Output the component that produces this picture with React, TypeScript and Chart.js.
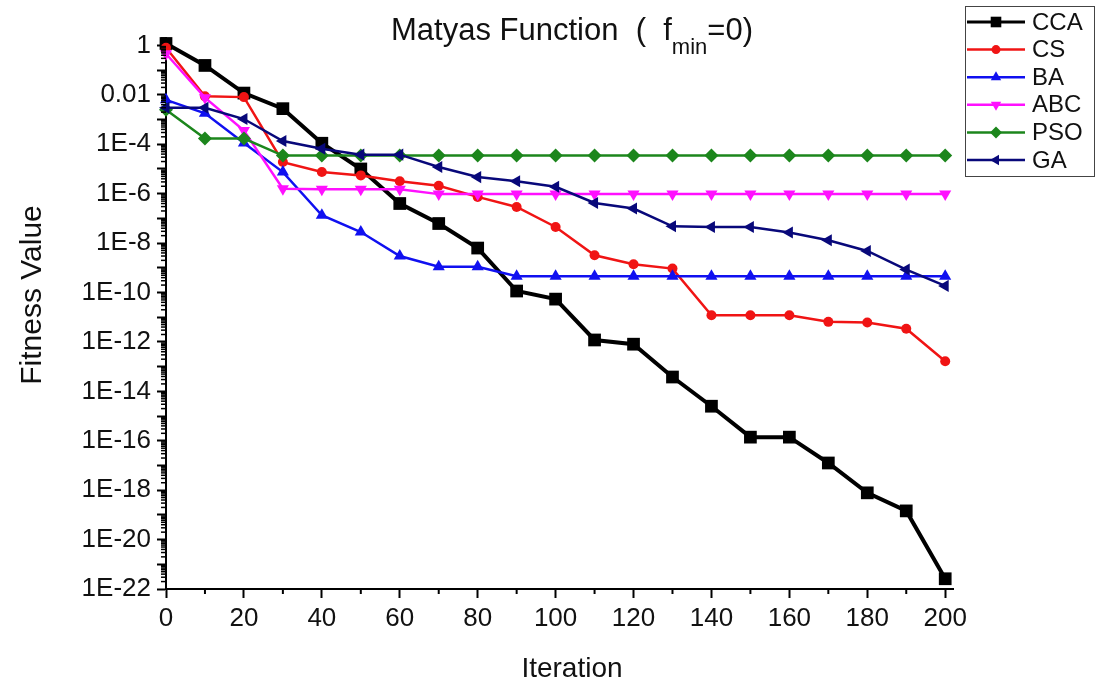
import React, { useEffect, useRef } from 'react';
import { Chart, registerables } from 'chart.js';

Chart.register(...registerables);

const iterations = [0, 10, 20, 30, 40, 50, 60, 70, 80, 90, 100, 110, 120, 130, 140, 150, 160, 170, 180, 190, 200];

const ccaValues = [1.2, 0.155, 0.0118, 0.00276, 1.1e-4, 1.0e-5, 4e-7, 6.2e-8, 6.3e-9, 1.15e-10, 5.4e-11, 1.2e-12, 8.1e-13, 3.8e-14, 2.5e-15, 1.4e-16, 1.4e-16, 1.26e-17, 7.8e-19, 1.45e-19, 2.6e-22];
const csValues = [0.8, 0.0087, 0.0081, 1.9e-5, 7.5e-6, 5.5e-6, 3.2e-6, 2.1e-6, 7.4e-7, 2.9e-7, 4.5e-8, 3.2e-9, 1.4e-9, 9.3e-10, 1.2e-11, 1.2e-11, 1.2e-11, 6.5e-12, 6.1e-12, 3.4e-12, 1.65e-13];
const baValues = [0.0063, 0.0018, 1.12e-4, 7.5e-6, 1.34e-7, 2.8e-8, 3.0e-9, 1.1e-9, 1.1e-9, 4.6e-10, 4.6e-10, 4.6e-10, 4.6e-10, 4.6e-10, 4.6e-10, 4.6e-10, 4.6e-10, 4.6e-10, 4.6e-10, 4.6e-10, 4.6e-10];
const abcValues = [0.46, 0.0077, 3.6e-4, 1.6e-6, 1.5e-6, 1.5e-6, 1.5e-6, 9.6e-7, 9.6e-7, 9.6e-7, 9.6e-7, 9.6e-7, 9.6e-7, 9.6e-7, 9.6e-7, 9.6e-7, 9.6e-7, 9.6e-7, 9.6e-7, 9.6e-7, 9.6e-7];
const psoValues = [0.0025, 1.7e-4, 1.7e-4, 3.5e-5, 3.5e-5, 3.5e-5, 3.5e-5, 3.5e-5, 3.5e-5, 3.5e-5, 3.5e-5, 3.5e-5, 3.5e-5, 3.5e-5, 3.5e-5, 3.5e-5, 3.5e-5, 3.5e-5, 3.5e-5, 3.5e-5, 3.5e-5];
const gaValues = [0.003, 0.003, 1.05e-3, 1.35e-4, 6.6e-5, 3.8e-5, 3.8e-5, 1.2e-5, 4.7e-6, 3.2e-6, 1.9e-6, 4.2e-7, 2.5e-7, 4.8e-8, 4.5e-8, 4.5e-8, 2.7e-8, 1.3e-8, 4.8e-9, 8.5e-10, 1.85e-10];

const seriesNames = ['CCA', 'CS', 'BA', 'ABC', 'PSO', 'GA'];
const xTickValues = [0, 20, 40, 60, 80, 100, 120, 140, 160, 180, 200];
const xMinorTickValues = [10, 30, 50, 70, 90, 110, 130, 150, 170, 190];
const yTickExponents = [0, -1, -2, -3, -4, -5, -6, -7, -8, -9, -10, -11, -12, -13, -14, -15, -16, -17, -18, -19, -20, -21, -22];

const FONT = "'Liberation Sans', Arial, Helvetica, sans-serif";

type Style = { color: string; pointStyle: string; rotation: number; radius: number; lineWidth: number; legendRadius: number };
const styles: Style[] = [
  { color: '#000000', pointStyle: 'rect', rotation: 0, radius: 9, lineWidth: 4, legendRadius: 7.5 },
  { color: '#f01414', pointStyle: 'circle', rotation: 0, radius: 5, lineWidth: 2.5, legendRadius: 4.5 },
  { color: '#1010f0', pointStyle: 'triangle', rotation: 0, radius: 7, lineWidth: 2.5, legendRadius: 6 },
  { color: '#ff10ff', pointStyle: 'triangle', rotation: 180, radius: 7, lineWidth: 2.5, legendRadius: 6 },
  { color: '#1c861c', pointStyle: 'rectRot', rotation: 0, radius: 7, lineWidth: 2.5, legendRadius: 6 },
  { color: '#08087a', pointStyle: 'triangle', rotation: 270, radius: 7, lineWidth: 2.5, legendRadius: 6 },
];

function drawMarker(ctx: CanvasRenderingContext2D, s: Style, x: number, y: number, r: number) {
  ctx.beginPath();
  if (s.pointStyle === 'rect') {
    const h = r * Math.SQRT1_2;
    ctx.rect(x - h, y - h, 2 * h, 2 * h);
  } else if (s.pointStyle === 'circle') {
    ctx.arc(x, y, r, 0, Math.PI * 2);
  } else if (s.pointStyle === 'rectRot') {
    ctx.moveTo(x, y - r);
    ctx.lineTo(x + r, y);
    ctx.lineTo(x, y + r);
    ctx.lineTo(x - r, y);
    ctx.closePath();
  } else {
    let rad = (s.rotation * Math.PI) / 180;
    for (let k = 0; k < 3; k++) {
      const px = x + Math.sin(rad) * r;
      const py = y - Math.cos(rad) * r;
      if (k === 0) ctx.moveTo(px, py);
      else ctx.lineTo(px, py);
      rad += (2 * Math.PI) / 3;
    }
    ctx.closePath();
  }
  ctx.fillStyle = s.color;
  ctx.fill();
}

const decorPlugin = {
  id: 'decor',
  afterDraw(chart: any) {
    const ctx: CanvasRenderingContext2D = chart.ctx;
    const xs = chart.scales.x;
    const ys = chart.scales.y;
    const area = chart.chartArea;
    ctx.save();
    // minor ticks
    ctx.strokeStyle = '#000';
    ctx.lineWidth = 1.5;
    for (let e = -22; e <= 0; e++) {
      for (let m = 2; m <= 9; m++) {
        const v = m * Math.pow(10, e);
        if (v > ys.max) continue;
        const py = ys.getPixelForValue(v);
        ctx.beginPath();
        ctx.moveTo(area.left - 5, py);
        ctx.lineTo(area.left, py);
        ctx.stroke();
      }
    }
    ctx.lineWidth = 2;
    for (const v of xMinorTickValues) {
      const px = xs.getPixelForValue(v);
      ctx.beginPath();
      ctx.moveTo(px, area.bottom);
      ctx.lineTo(px, area.bottom + 5);
      ctx.stroke();
    }

    // title
    ctx.fillStyle = '#111';
    ctx.textBaseline = 'alphabetic';
    ctx.textAlign = 'left';
    const bigFont = `31px ${FONT}`;
    const subFont = `22px ${FONT}`;
    const p1 = 'Matyas Function  (  f';
    const p2 = 'min';
    const p3 = '=0)';
    ctx.font = bigFont;
    const w1 = ctx.measureText(p1).width;
    const w3 = ctx.measureText(p3).width;
    ctx.font = subFont;
    const w2 = ctx.measureText(p2).width;
    let tx = 572 - (w1 + w2 + w3) / 2;
    ctx.font = bigFont;
    ctx.fillText(p1, tx, 40);
    tx += w1;
    ctx.font = subFont;
    ctx.fillText(p2, tx, 54);
    tx += w2;
    ctx.font = bigFont;
    ctx.fillText(p3, tx, 40);

    // axis titles
    ctx.font = `28px ${FONT}`;
    ctx.textAlign = 'center';
    ctx.fillText('Iteration', 572, 677);
    ctx.font = `30px ${FONT}`;
    ctx.save();
    ctx.translate(41, 295);
    ctx.rotate(-Math.PI / 2);
    ctx.fillText('Fitness Value', 0, 0);
    ctx.restore();

    // legend
    const bx = 965, by = 6, bw = 129, bh = 170;
    ctx.strokeStyle = '#444';
    ctx.lineWidth = 1;
    ctx.strokeRect(bx + 0.5, by + 0.5, bw, bh);
    ctx.font = `24px ${FONT}`;
    ctx.textAlign = 'left';
    ctx.textBaseline = 'middle';
    seriesNames.forEach((name, i) => {
      const s = styles[i];
      const ry = 22 + i * 27.6;
      ctx.strokeStyle = s.color;
      ctx.lineWidth = i === 0 ? 3 : 2.5;
      ctx.beginPath();
      ctx.moveTo(967, ry);
      ctx.lineTo(1025, ry);
      ctx.stroke();
      drawMarker(ctx, s, 996, ry, s.legendRadius);
      ctx.fillStyle = '#111';
      ctx.fillText(name, 1032, ry + 1);
    });
    ctx.restore();
  },
};

function formatExp(v: number): string {
  const e = Math.round(Math.log10(v));
  if (e % 2 !== 0) return '';
  if (e === 0) return '1';
  if (e === -2) return '0.01';
  return '1E' + e;
}

export default function App() {
  const canvasRef = useRef<HTMLCanvasElement | null>(null);

  useEffect(() => {
    const canvas = canvasRef.current;
    if (!canvas) return;
    const allValues = [ccaValues, csValues, baValues, abcValues, psoValues, gaValues];
    const datasets = seriesNames.map((name, i) => {
      const s = styles[i];
      return {
        label: name,
        data: iterations.map((it, k) => ({ x: it, y: allValues[i][k] })),
        borderColor: s.color,
        backgroundColor: s.color,
        borderWidth: s.lineWidth,
        pointStyle: s.pointStyle,
        pointRotation: s.rotation,
        pointRadius: s.radius,
        pointHoverRadius: s.radius,
        pointBorderWidth: 0,
        pointBackgroundColor: s.color,
        tension: 0,
        clip: false,
        order: 6 - i,
      };
    });

    const chart = new Chart(canvas, {
      type: 'line',
      data: { datasets: datasets as any },
      options: {
        animation: false,
        responsive: false,
        layout: { padding: { top: 38, right: 149, left: 0, bottom: 0 } },
        plugins: {
          legend: { display: false },
          title: { display: false },
          tooltip: { enabled: false },
        },
        scales: {
          x: {
            type: 'linear',
            min: 0,
            max: 202,
            afterBuildTicks: (scale: any) => {
              scale.ticks = xTickValues.map((v) => ({ value: v }));
            },
            afterFit: (scale: any) => {
              scale.height = 95;
            },
            border: { display: true, color: '#000', width: 2 },
            grid: { display: true, drawOnChartArea: false, drawTicks: true, tickLength: 9, tickColor: '#000', tickWidth: 2, color: '#000' },
            ticks: {
              autoSkip: false,
              maxRotation: 0,
              padding: 5,
              color: '#111',
              font: { family: FONT, size: 26 },
            },
          },
          y: {
            type: 'logarithmic',
            min: 1e-22,
            max: 2,
            afterBuildTicks: (scale: any) => {
              scale.ticks = yTickExponents.map((e) => ({ value: Math.pow(10, e) }));
            },
            afterFit: (scale: any) => {
              scale.width = 166;
            },
            border: { display: true, color: '#000', width: 2 },
            grid: { display: true, drawOnChartArea: false, drawTicks: true, tickLength: 9, tickColor: '#000', tickWidth: 2, color: '#000' },
            ticks: {
              autoSkip: false,
              padding: 6,
              color: '#111',
              font: { family: FONT, size: 26 },
              callback: (v: any) => formatExp(Number(v)),
            },
          },
        },
      },
      plugins: [decorPlugin],
    });
    return () => chart.destroy();
  }, []);

  return (
    <div style={{ position: 'fixed', left: 0, top: 0, width: 1102, height: 684, background: '#fff' }}>
      <canvas ref={canvasRef} width={1102} height={684} style={{ display: 'block' }} />
    </div>
  );
}
